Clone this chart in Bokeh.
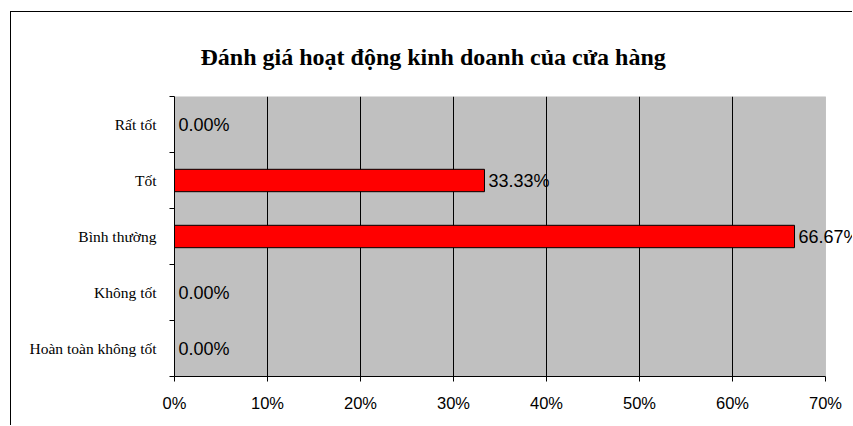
from bokeh.plotting import figure
from bokeh.models import (ColumnDataSource, FixedTicker, NumeralTickFormatter, Range1d,
                          LabelSet, BoxAnnotation)
from bokeh.core.properties import value
from bokeh.embed import file_html
from bokeh.resources import INLINE

# ---- data (top to bottom as shown) ----
categories = ["Rất tốt", "Tốt", "Bình thường", "Không tốt", "Hoàn toàn không tốt"]
values = [0.0, 33.33, 66.67, 0.0, 0.0]  # percent
x_ticks = [0, 10, 20, 30, 40, 50, 60, 70]  # percent
title_text = "Đánh giá hoạt động kinh doanh của cửa hàng"

n = len(categories)
ypos = [n - i - 0.5 for i in range(n)]
src = ColumnDataSource(dict(
    y=ypos,
    v=[v / 100.0 for v in values],
    lbl=["{:.2f}%".format(v) for v in values],
))

x_max = x_ticks[-1] / 100.0
# frame extends to the canvas edge so the last label is not clipped;
# the grey plot area itself stops at x_max
x_end = x_max * 679.0 / 651.0

p = figure(width=842, height=414, output_backend="svg", toolbar_location=None,
           x_range=Range1d(0, x_end), y_range=Range1d(0, n),
           min_border_left=163, min_border_right=0, min_border_top=84,
           min_border_bottom=50)
p.margin = (11, 0, 0, 10)
p.styles = {"border-left": "1px solid black", "border-top": "1px solid black"}
p.background_fill_color = "white"
p.border_fill_color = "white"
p.outline_line_color = None

area = BoxAnnotation(left=0, right=x_max, fill_color="#C0C0C0", fill_alpha=1,
                     line_color="#808080", line_width=1, level="image")
p.add_layout(area)

p.hbar(y="y", left=0, right="v", height=0.4, source=src,
       fill_color="#FF0000", line_color="black", line_width=1)

labels = LabelSet(x="v", y="y", text="lbl", source=src, x_offset=4,
                  text_align="left", text_baseline="middle",
                  text_font=value("Liberation Sans"), text_font_size=value("18px"),
                  text_color="black")
p.add_layout(labels)

# x axis
xa = p.xaxis[0]
xa.ticker = FixedTicker(ticks=[t / 100.0 for t in x_ticks])
xa.bounds = (0, x_max)
xa.formatter = NumeralTickFormatter(format="0%")
xa.major_label_text_font = "Liberation Sans"
xa.major_label_text_font_size = "16.5px"
xa.major_label_text_color = "black"
xa.major_tick_out = 5
xa.major_tick_in = 0
xa.minor_tick_line_color = None
xa.axis_line_color = "black"
xa.major_label_standoff = 12

# y axis
ya = p.yaxis[0]
ya.ticker = FixedTicker(ticks=ypos, minor_ticks=list(range(n + 1)))
ya.major_label_overrides = {y: c for y, c in zip(ypos, categories)}
ya.major_label_text_font = "Liberation Serif"
ya.major_label_text_font_size = "15.5px"
ya.major_label_text_color = "black"
ya.major_tick_line_color = None
ya.major_tick_out = 0
ya.major_tick_in = 0
ya.minor_tick_out = 5
ya.minor_tick_in = 0
ya.minor_tick_line_color = "black"
ya.axis_line_color = "black"
ya.major_label_standoff = 13

p.xgrid.ticker = FixedTicker(ticks=[t / 100.0 for t in x_ticks[1:-1]])
p.xgrid.grid_line_color = "black"
p.ygrid.grid_line_color = None

p.title.text = title_text
p.title.align = "left"
p.title.offset = 26
p.title.standoff = 54
p.title.text_font = "Liberation Serif"
p.title.text_font_style = "bold"
p.title.text_font_size = "24px"
p.title.text_color = "black"

open("out.html", "w").write(file_html(p, INLINE))
